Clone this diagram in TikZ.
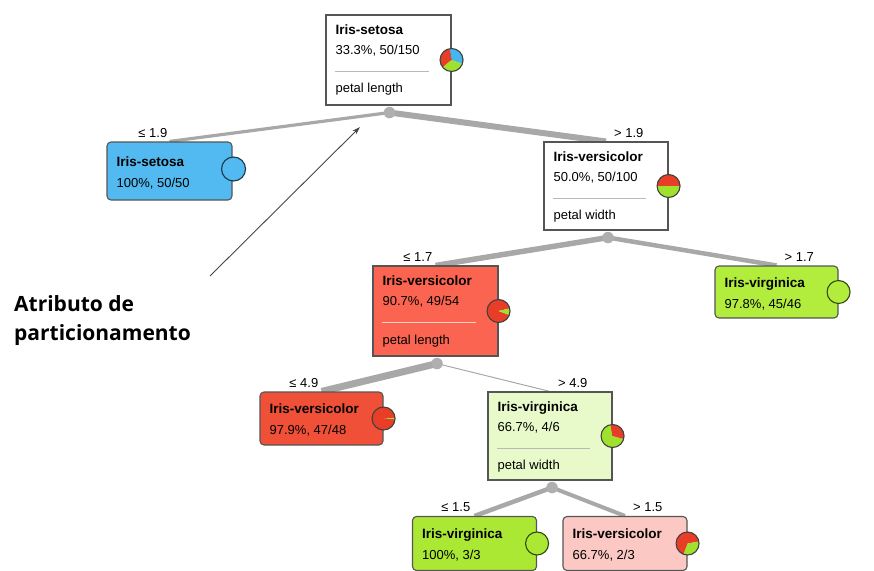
\documentclass[tikz,border=0pt]{standalone}
\usepackage{fontspec}
\setmainfont{Liberation Sans}
\newfontfamily\annfont{Open Sans}
\usetikzlibrary{arrows.meta,calc,backgrounds}
\definecolor{edgegray}{RGB}{168,168,168}
\definecolor{dotgray}{RGB}{175,175,178}
\definecolor{boxline}{RGB}{85,85,85}
\definecolor{setblue}{RGB}{82,186,240}
\definecolor{redA}{RGB}{250,100,80}
\definecolor{redB}{RGB}{240,80,55}
\definecolor{grnA}{RGB}{178,236,60}
\definecolor{grnB}{RGB}{170,232,52}
\definecolor{grnL}{RGB}{233,250,202}
\definecolor{pinkA}{RGB}{252,200,195}
\definecolor{pieRed}{RGB}{232,62,40}
\definecolor{pieGreen}{RGB}{160,225,45}
\definecolor{pieBlue}{RGB}{70,182,240}
\definecolor{annline}{RGB}{70,70,70}
\newcommand\myPieR{11.5pt}
\newcommand\mywedge[4]{\fill[#1] (#2) -- ++(#3:\myPieR) arc[start angle=#3,end angle=#4,radius=\myPieR] -- cycle;}
\newcommand\mypierim[1]{\draw[line width=1.1pt,draw=black!75] (#1) circle[radius=\myPieR];}
\begin{document}
\begin{tikzpicture}[x=1pt,y=-1pt,
  ibox/.style={draw=boxline,line width=1.1pt,inner sep=0pt,rectangle},
  lbox/.style={draw=boxline,line width=1.1pt,inner sep=0pt,rectangle,rounded corners=4pt},
  tb/.style={anchor=base west,inner sep=0pt,font=\fontsize{13.5}{15}\selectfont\bfseries},
  tr/.style={anchor=base west,inner sep=0pt,font=\fontsize{13}{15}\selectfont},
  elab/.style={inner sep=0pt,font=\fontsize{13}{15}\selectfont},
  edge/.style={draw=edgegray},
  dotnode/.style={circle,fill=dotgray,minimum size=11.5pt,inner sep=0pt},
  sep/.style={draw=gray!55,line width=0.9pt},
  anntext/.style={anchor=base west,inner sep=0pt,font=\annfont\bfseries\fontsize{21}{30}\selectfont},
]
\useasboundingbox (0,0) rectangle (874,570);

% ---------- boxes ----------
\node[ibox,fill=white,minimum width=125pt,minimum height=90pt] (root) at (388.5,60) {};
\node[ibox,fill=white,minimum width=124pt,minimum height=88pt] (vers) at (606,186) {};
\node[ibox,fill=redA,minimum width=125pt,minimum height=90pt] (redone) at (435.5,311) {};
\node[ibox,fill=grnL,minimum width=124pt,minimum height=88pt] (lgrn) at (550,436) {};

\node[lbox,fill=setblue,minimum width=125pt,minimum height=58pt] (setleaf) at (169.5,171) {};
\node[lbox,fill=grnA,minimum width=123pt,minimum height=52pt] (virone) at (776.5,292) {};
\node[lbox,fill=redB,minimum width=123pt,minimum height=53pt] (redtwo) at (321.5,418.5) {};
\node[lbox,fill=grnB,minimum width=124pt,minimum height=54pt] (virtwo) at (474.5,543.5) {};
\node[lbox,fill=pinkA,minimum width=124pt,minimum height=54pt] (pinkleaf) at (625,543.5) {};

% split points
\node[dotnode] (d0) at ($(root.south)+(1,7)$) {};
\node[dotnode] (d2) at ($(vers.south)+(2,7)$) {};
\node[dotnode] (d3) at ($(redone.south)+(1.5,7)$) {};
\node[dotnode] (d6) at ($(lgrn.south)+(2,7)$) {};

% ---------- edges (behind boxes) ----------
\begin{pgfonlayer}{background}
\draw[edge,line width=3.2pt] (d0.center) -- (setleaf.north);
\draw[edge,line width=6pt] (d0.center) -- (vers.north);
\draw[edge,line width=5.5pt] (d2.center) -- (redone.north);
\draw[edge,line width=4.5pt] (d2.center) -- (virone.north);
\draw[edge,line width=7pt] (d3.center) -- (redtwo.north);
\draw[edge,line width=1pt] (d3.center) -- (lgrn.north);
\draw[edge,line width=4.5pt] (d6.center) -- (virtwo.north);
\draw[edge,line width=4pt] (d6.center) -- (pinkleaf.north);
\end{pgfonlayer}

% ---------- edge labels ----------
\node[elab,anchor=base east] (l1) at ($(setleaf.north)+(-2,-4)$) {≤ 1.9};
\node[elab,anchor=base west] (l2) at ($(vers.north)+(8,-4)$) {> 1.9};
\node[elab,anchor=base east] (l3) at ($(redone.north)+(-3,-4)$) {≤ 1.7};
\node[elab,anchor=base west] (l4) at ($(virone.north)+(8,-4)$) {> 1.7};
\node[elab,anchor=base east] (l5) at ($(redtwo.north)+(-3,-4)$) {≤ 4.9};
\node[elab,anchor=base west] (l6) at ($(lgrn.north)+(8,-4)$) {> 4.9};
\node[elab,anchor=base east] (l7) at ($(virtwo.north)+(-4,-4)$) {≤ 1.5};
\node[elab,anchor=base west] (l8) at ($(pinkleaf.north)+(8,-4)$) {> 1.5};

% ---------- texts: internal nodes ----------
\node[tb] (t0a) at ($(root.north west)+(10,20)$) {Iris-setosa};
\node[tr] (t0b) at ($(root.north west)+(10,40)$) {33.3\%, 50/150};
\draw[sep] ($(root.north west)+(10,57)$) -- ($(root.north east)+(-23,57)$);
\node[tr] (t0c) at ($(root.north west)+(10,78)$) {petal length};

\node[tb] (t2a) at ($(vers.north west)+(10,20)$) {Iris-versicolor};
\node[tr] (t2b) at ($(vers.north west)+(10,40)$) {50.0\%, 50/100};
\draw[sep] ($(vers.north west)+(10,57)$) -- ($(vers.north east)+(-23,57)$);
\node[tr] (t2c) at ($(vers.north west)+(10,78)$) {petal width};

\node[tb] (t3a) at ($(redone.north west)+(10,20)$) {Iris-versicolor};
\node[tr] (t3b) at ($(redone.north west)+(10,40)$) {90.7\%, 49/54};
\draw[sep,draw=white!70!redA] ($(redone.north west)+(10,57)$) -- ($(redone.north east)+(-23,57)$);
\node[tr] (t3c) at ($(redone.north west)+(10,79)$) {petal length};

\node[tb] (t6a) at ($(lgrn.north west)+(10,20)$) {Iris-virginica};
\node[tr] (t6b) at ($(lgrn.north west)+(10,40)$) {66.7\%, 4/6};
\draw[sep] ($(lgrn.north west)+(10,57)$) -- ($(lgrn.north east)+(-23,57)$);
\node[tr] (t6c) at ($(lgrn.north west)+(10,78)$) {petal width};

% ---------- texts: leaves ----------
\node[tb] (t1a) at ($(setleaf.west)+(10,-5)$) {Iris-setosa};
\node[tr] (t1b) at ($(setleaf.west)+(10,16)$) {100\%, 50/50};
\node[tb] (t4a) at ($(virone.west)+(10,-5)$) {Iris-virginica};
\node[tr] (t4b) at ($(virone.west)+(10,16)$) {97.8\%, 45/46};
\node[tb] (t5a) at ($(redtwo.west)+(10,-5)$) {Iris-versicolor};
\node[tr] (t5b) at ($(redtwo.west)+(10,16)$) {97.9\%, 47/48};
\node[tb] (t7a) at ($(virtwo.west)+(10,-5)$) {Iris-virginica};
\node[tr] (t7b) at ($(virtwo.west)+(10,16)$) {100\%, 3/3};
\node[tb] (t8a) at ($(pinkleaf.west)+(10,-5)$) {Iris-versicolor};
\node[tr] (t8b) at ($(pinkleaf.west)+(10,16)$) {66.7\%, 2/3};

% ---------- pies ----------
\coordinate (p0) at (root.east);
\mywedge{pieBlue}{p0}{-20}{100}
\mywedge{pieRed}{p0}{100}{220}
\mywedge{pieGreen}{p0}{220}{340}
\mypierim{p0}

\coordinate (p1) at ($(setleaf.east)+(1,-2)$);
\fill[setblue] (p1) circle[radius=12pt];
\draw[line width=1.1pt,draw=black!70!setblue] (p1) circle[radius=12pt];

\coordinate (p2) at (vers.east);
\mywedge{pieRed}{p2}{0}{180}
\mywedge{pieGreen}{p2}{180}{360}
\mypierim{p2}

\coordinate (p3) at (redone.east);
\mywedge{pieRed}{p3}{13}{340}
\mywedge{pieGreen}{p3}{-20}{13}
\mypierim{p3}

\coordinate (p4) at (virone.east);
\fill[grnA] (p4) circle[radius=\myPieR];
\draw[line width=1.1pt,draw=black!70!grnA] (p4) circle[radius=\myPieR];

\coordinate (p5) at (redtwo.east);
\mywedge{pieRed}{p5}{4}{356}
\mywedge{pieGreen}{p5}{-4}{4}
\mypierim{p5}

\coordinate (p6) at (lgrn.east);
\mywedge{pieGreen}{p6}{100}{345}
\mywedge{pieRed}{p6}{-15}{100}
\mypierim{p6}

\coordinate (p7) at (virtwo.east);
\fill[grnB] (p7) circle[radius=\myPieR];
\draw[line width=1.1pt,draw=black!70!grnB] (p7) circle[radius=\myPieR];

\coordinate (p8) at (pinkleaf.east);
\mywedge{pieRed}{p8}{10}{250}
\mywedge{pieGreen}{p8}{-110}{10}
\mypierim{p8}

% ---------- annotation ----------
\coordinate (annstart) at (210,276);
\coordinate (anntip) at (360,127);
\draw[annline,line width=0.9pt,-{Stealth[length=8pt,width=5pt]}] (annstart) -- (anntip);
\node[anntext] (ann1) at (14,311) {Atributo de};
\node[anntext] (ann2) at (14,340) {particionamento};
\end{tikzpicture}
\end{document}
